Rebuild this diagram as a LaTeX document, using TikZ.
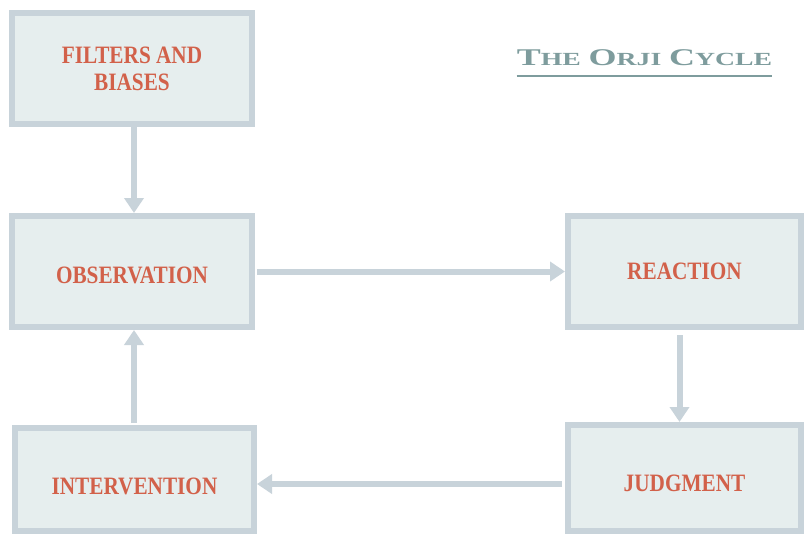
\documentclass[tikz,border=0pt]{standalone}
\usepackage{fontspec}
\setmainfont{Liberation Serif}
\newfontfamily\boxfont[FakeStretch=0.85]{Liberation Serif}
\newfontfamily\titlefont[FakeStretch=1.5]{Liberation Serif}
\usepackage{xcolor}
\usetikzlibrary{arrows.meta,positioning}
\definecolor{edgec}{HTML}{C8D3DA}
\definecolor{boxbg}{HTML}{E6EEEE}
\definecolor{labc}{HTML}{D2614A}
\definecolor{titc}{HTML}{7E9C9D}
\newcommand{\bigc}[1]{{\fontsize{24}{26}\selectfont #1}}
\newcommand{\smallc}[1]{{\fontsize{18.5}{26}\selectfont #1}}
\newcommand{\sinklabel}[2]{\raisebox{-#1}[\height][\depth]{#2}}
\tikzset{
  ar/.style={-{Triangle[length=15pt,width=19pt]},line width=6pt,edgec},
  stage/.style={draw=edgec,line width=6pt,fill=boxbg,align=center,
    font=\boxfont\bfseries\fontsize{25}{27}\selectfont,text=labc,inner sep=0pt}
}
\begin{document}
\begin{tikzpicture}[x=1pt,y=-1pt]
\useasboundingbox (0,0) rectangle (804,535);
\node[stage,minimum width=240pt,minimum height=111pt] (filt) at (132,68.5) {FILTERS AND\\BIASES};
\node[stage,minimum width=240pt,minimum height=111pt] (obs) at (132,271.5) {\sinklabel{4pt}{OBSERVATION}};
\node[stage,minimum width=233pt,minimum height=111pt] (reac) at (684.5,271.5) {REACTION};
\node[stage,minimum width=233pt,minimum height=106pt] (judg) at (684.5,478) {\sinklabel{5pt}{JUDGMENT}};
\node[stage,minimum width=239pt,minimum height=103pt] (interv) at (134.5,479.5) {\sinklabel{7pt}{INTERVENTION}};
% title
\node[font=\titlefont\bfseries,text=titc,inner sep=0pt,anchor=base] (title) at (644.5,66)
  {\bigc{T}\smallc{HE}\hspace{4pt} \bigc{O}\smallc{RJI}\hspace{4pt} \bigc{C}\smallc{YCLE}};
\draw[titc,line width=2pt] ([yshift=-10pt]title.base west) -- ([yshift=-10pt]title.base east);
% cycle arrows
\draw[ar] ([xshift=2pt]filt.south) -- ([xshift=2pt]obs.north);
\draw[ar] ([xshift=2pt]obs.east) -- (reac.west);
\draw[ar] ([xshift=-5pt,yshift=-5pt]reac.south) -- ([xshift=-5pt]judg.north);
\draw[ar] ([shift={(-3pt,-6pt)}]judg.west) -- ([yshift=-4.5pt]interv.east);
\draw[ar] ([shift={(-0.5pt,2pt)}]interv.north) -- ([xshift=2pt]obs.south);
\end{tikzpicture}
\end{document}
